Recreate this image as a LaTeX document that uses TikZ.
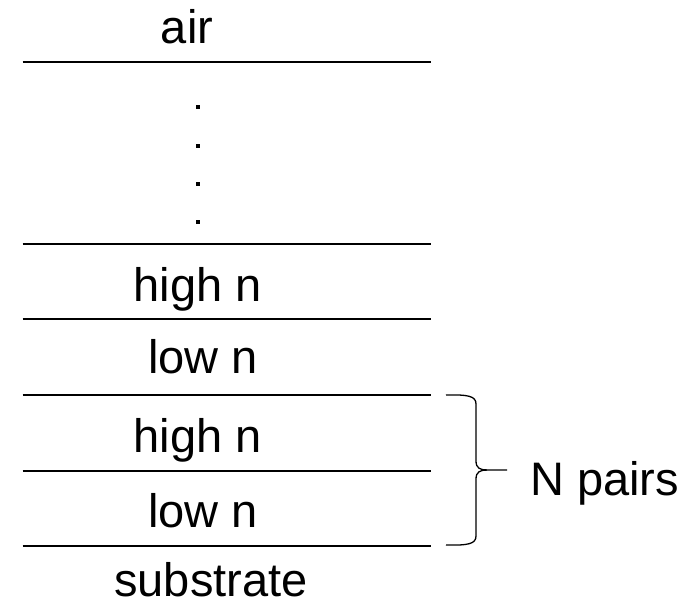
\documentclass[tikz,border=0pt]{standalone}
\usepackage{fontspec}
\setmainfont{Liberation Sans}
\begin{document}
\begin{tikzpicture}[x=1pt,y=-1pt,
  layerlabel/.style={anchor=base,inner sep=0pt,font=\fontsize{47}{56}\selectfont},
  ellipsisdot/.style={rectangle,fill=black,inner sep=0pt,minimum size=4.3pt},
  interface/.style={line width=2pt},
  bracket/.style={line width=1.3pt,line join=round}]
\useasboundingbox (0,0) rectangle (697,606);

% interfaces between layers
\foreach \n/\y in {1/62,2/243.5,3/319,4/394.5,5/471,6/546}{
  \coordinate (L\n a) at (22.7,\y);
  \coordinate (L\n b) at (431,\y);
  \draw[interface] (L\n a) -- (L\n b);
}

% vertical ellipsis for the omitted layers
\foreach \n/\y in {1/107,2/146,3/184,4/222}{
  \node[ellipsisdot] (d\n) at (197.7,\y) {};
}

% layer names
\node[layerlabel] (air)  at (187,43)  {air};
\node[layerlabel] (hi1)  at (197.5,301) {high n};
\node[layerlabel] (lo1)  at (203,373)   {low n};
\node[layerlabel] (hi2)  at (197.5,452) {high n};
\node[layerlabel] (lo2)  at (203,527)   {low n};
\node[layerlabel] (sub)  at (211,596)   {substrate};

% brace around the repeated pair
\coordinate (btop) at (446,395);
\coordinate (bbot) at (446,545);
\coordinate (btip) at (507,470);
\draw[bracket] (btop) .. controls (468,394.5) and (476,396) .. (476,404)
  -- (476,461) .. controls (476,468) and (480,470) .. (487,470) -- (btip);
\draw[bracket] (487,470) .. controls (480,470) and (476,472) .. (476,479)
  -- (476,536) .. controls (476,544) and (468,545.5) .. (bbot);

\node[layerlabel,anchor=base west] (pairs) at (530,495) {N pairs};
\end{tikzpicture}
\end{document}
